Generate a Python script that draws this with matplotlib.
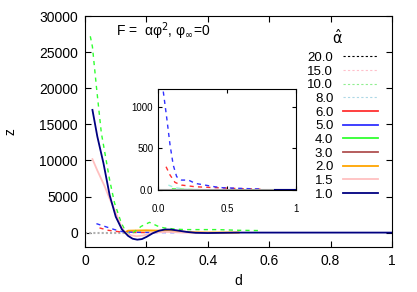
import matplotlib
matplotlib.use("Agg")
import matplotlib.pyplot as plt
from matplotlib.lines import Line2D

plt.rcParams["font.family"] = ["Liberation Sans", "DejaVu Sans"]
plt.rcParams["mathtext.fontset"] = "dejavusans"

# ---------------------------
# main panel curves
# ---------------------------
d_navy = [0.024, 0.04, 0.06, 0.08, 0.10, 0.12, 0.14, 0.155, 0.17, 0.185, 0.20, 0.22,
          0.24, 0.26, 0.28, 0.30, 0.33, 0.36, 0.40, 0.45, 0.50, 0.60, 1.0]
z_navy = [17000, 13300, 9600, 5200, 2200, 450, -450, -850, -980, -900, -600, -100,
          250, 430, 420, 300, 100, -30, -60, -30, 0, 0, 0]

d_pink = [0.024, 0.04, 0.064, 0.08, 0.096, 0.118, 0.13, 0.15, 0.167, 0.19, 0.22, 0.27, 0.32, 0.4]
z_pink = [10180, 8600, 6400, 4700, 3180, 870, 0, -380, -500, -400, 0, 100, 0, 0]

d_green = [0.017, 0.024, 0.037, 0.053, 0.061, 0.08, 0.096, 0.118, 0.134, 0.15, 0.183,
           0.21, 0.242, 0.258, 0.29, 0.323, 0.43, 0.50, 0.57]
z_green = [27200, 25750, 20200, 13800, 11900, 7300, 4100, 1340, 0, -250, 870,
           1420, 790, 650, 500, 415, 415, 320, 280]

d_blue = [0.037, 0.069, 0.096, 0.12, 0.15, 0.2, 0.3]
z_blue = [1240, 790, 415, 140, 50, 20, 0]

d_red = [0.047, 0.075, 0.107, 0.13, 0.16, 0.2]
z_red = [650, 320, 140, 50, 10, 0]

d_grey = [0.0, 0.13]
z_grey = [0, 0]

d_orange = [0.13, 0.14, 0.2, 0.25, 0.3, 0.35, 0.4, 0.5]
z_orange = [0, 250, 300, 250, 150, 50, 0, 0]

# ---------------------------
# inset curves
# ---------------------------
di_blue = [0.038, 0.063, 0.087, 0.11, 0.135, 0.17, 0.22, 0.27, 0.34, 0.41, 0.47, 0.6, 0.76]
zi_blue = [1180, 864, 540, 300, 160, 120, 120, 80, 60, 40, 28, 20, 12]

di_red = [0.058, 0.087, 0.123, 0.17, 0.27, 0.4, 0.55, 0.76]
zi_red = [280, 180, 92, 60, 40, 30, 20, 10]

di_cyan = [0.075, 0.12, 0.2, 0.3]
zi_cyan = [60, 30, 10, 5]

di_green = [0.1, 0.2, 0.4]
zi_green = [15, 8, 3]

di_navy = [0.85, 1.0]
zi_navy = [0, 0]

# ---------------------------
# legend
# ---------------------------
alpha_labels = ["20.0", "15.0", "10.0", "8.0", "6.0", "5.0", "4.0", "3.0", "2.0", "1.5", "1.0"]
alpha_colors = ["#000000", "#ffc0cb", "#90ee90", "#add8e6", "#ff3030", "#3030ff",
                "#30ff30", "#b05050", "#ffa500", "#ffc0c0", "#000080"]
alpha_styles = [(0, (2, 2))] * 4 + ["-"] * 7

fig = plt.figure(figsize=(4.17, 2.92), dpi=100)
ax = fig.add_axes([0.204, 0.154, 0.736, 0.791])

ax.plot(d_grey, z_grey, color="#b0b0b0", lw=1.5, ls=(0, (1, 1)))
ax.plot(d_orange, z_orange, color="#ffa500", lw=1.5)
ax.plot(d_red, z_red, color="#ff3030", lw=1.0, ls=(0, (3, 3)))
ax.plot(d_blue, z_blue, color="#3030ff", lw=1.0, ls=(0, (3, 3)))
ax.plot(d_green, z_green, color="#30ff30", lw=1.0, ls=(0, (3, 3)))
ax.plot(d_pink, z_pink, color="#ffc0c0", lw=1.3)
ax.plot(d_navy, z_navy, color="#000080", lw=1.3)

ax.set_xlim(0, 1)
ax.set_ylim(-2000, 30000)
ax.set_xticks([0, 0.2, 0.4, 0.6, 0.8, 1.0])
ax.set_xticklabels(["0", "0.2", "0.4", "0.6", "0.8", "1"])
ax.set_yticks([0, 5000, 10000, 15000, 20000, 25000, 30000])
ax.tick_params(direction="in", top=True, right=True, length=4, labelsize=10, pad=5)
ax.set_xlabel("d", fontsize=10)
ax.set_ylabel("z", fontsize=10, labelpad=16)

handles = [Line2D([], [], color=c, ls=s, lw=1.3 if s == "-" else 0.8)
           for c, s in zip(alpha_colors, alpha_styles)]
ax.legend(handles, alpha_labels, markerfirst=False,
          frameon=False, fontsize=9.5, loc="upper right", bbox_to_anchor=(0.955, 0.846),
          handlelength=2.7, labelspacing=0.11, handletextpad=0.7, borderaxespad=0, borderpad=0)
fig.text(0.81, 0.87, r"$\hat{\mathrm{\alpha}}$", fontsize=10.5, ha="center", va="center")

fig.text(0.278, 0.894, "F =  \u03b1\u03c6$^2$, \u03c6$_\\infty$=0", fontsize=10,
         ha="left", va="center")

# ---------------------------
# inset
# ---------------------------
ins = fig.add_axes([0.379, 0.349, 0.331, 0.346])
ins.plot(di_cyan, zi_cyan, color="#a0f0e0", lw=1.0, ls=(0, (3, 3)))
ins.plot(di_green, zi_green, color="#30ff30", lw=1.0, ls=(0, (3, 3)))
ins.plot(di_red, zi_red, color="#ff3030", lw=1.0, ls=(0, (3, 3)))
ins.plot(di_blue, zi_blue, color="#3030ff", lw=1.0, ls=(0, (3, 3)))
ins.axhline(0, color="#a0a0a0", lw=1.5)
ins.plot(di_navy, zi_navy, color="#000080", lw=1.5)
ins.set_xlim(0, 1)
ins.set_ylim(0, 1210)
ins.set_xticks([0, 0.5, 1.0])
ins.set_xticklabels(["0.0", "0.5", "1"])
ins.set_yticks([0, 500, 1000])
ins.set_yticklabels(["0.0", "500", "1000"])
ins.tick_params(direction="in", top=True, right=True, length=3, labelsize=7)
ins.tick_params(axis="x", pad=10)

fig.savefig("out.png", dpi=100)
